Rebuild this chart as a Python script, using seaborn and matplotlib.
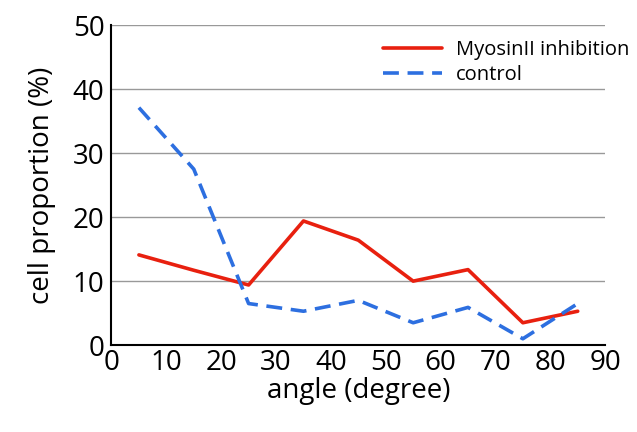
import matplotlib
matplotlib.use('Agg')
import matplotlib.pyplot as plt
import seaborn as sns
import pandas as pd

# data
angles = [5, 15, 25, 35, 45, 55, 65, 75, 85]
myosin = [14.1, 11.7, 9.4, 19.4, 16.4, 10.0, 11.8, 3.5, 5.3]
control = [37.1, 27.5, 6.5, 5.3, 7.0, 3.5, 5.9, 1.0, 6.5]
x_ticks = list(range(0, 91, 10))
y_ticks = list(range(0, 51, 10))

df = pd.DataFrame({'angle': angles * 2,
                   'value': myosin + control,
                   'group': ['MyosinII inhibition'] * len(angles) + ['control'] * len(angles)})

sns.set_theme(style="white")
plt.rcParams['font.family'] = ['Open Sans', 'DejaVu Sans']
plt.rcParams['text.color'] = 'black'
plt.rcParams['axes.labelcolor'] = 'black'

fig = plt.figure(figsize=(6.37, 4.32), dpi=100)
ax = fig.add_axes([0.175, 0.201, 0.775, 0.741])

sns.lineplot(data=df, x='angle', y='value', hue='group', style='group',
             palette={'MyosinII inhibition': '#e8200f', 'control': '#2d6fe0'},
             dashes={'MyosinII inhibition': '', 'control': (4.4, 2.4)},
             linewidth=2.6, ax=ax)

ax.set_xlim(0, 90)
ax.set_ylim(0, 50)
ax.set_xticks(x_ticks)
ax.set_yticks(y_ticks)
ax.yaxis.grid(True, color='#999999', linewidth=1)
ax.xaxis.grid(False)
ax.set_axisbelow(True)
for s in ['top', 'right']:
    ax.spines[s].set_visible(False)
for s in ['left', 'bottom']:
    ax.spines[s].set_color('black')
    ax.spines[s].set_linewidth(1.5)
ax.tick_params(axis='both', labelsize=20, length=3, width=1, colors='black')
ax.tick_params(axis='x', direction='in', pad=3)
ax.tick_params(axis='y', direction='out', pad=2)

ax.set_xlabel('angle (degree)', fontsize=20, labelpad=0)
ax.set_ylabel('cell proportion (%)', fontsize=20, labelpad=12)

leg = ax.legend(loc='upper right', bbox_to_anchor=(1.085, 1.01), frameon=False,
                fontsize=14.5, handlelength=2.9, handletextpad=0.7, labelspacing=0.25)

fig.savefig('out.png', dpi=100)
